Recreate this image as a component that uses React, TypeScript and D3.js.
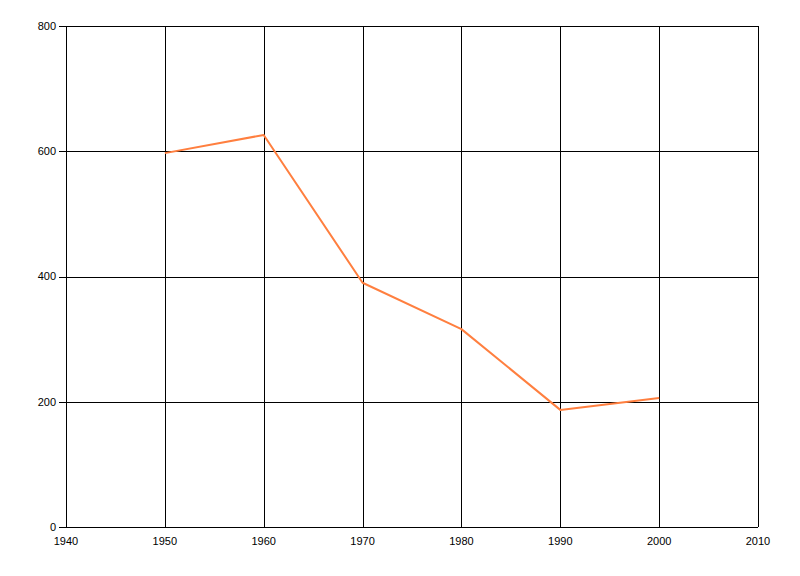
import React from "react";
import * as d3 from "d3";

const years = [1950, 1960, 1970, 1980, 1990, 2000];
const values = [597, 626, 390, 316, 187, 206];
const xTicks = [1940, 1950, 1960, 1970, 1980, 1990, 2000, 2010];
const yTicks = [0, 200, 400, 600, 800];

export default function App() {
  const W = 800, H = 576;
  const left = 66, right = 758, top = 26, bottom = 527;
  const x = d3.scaleLinear().domain([1940, 2010]).range([left, right]);
  const y = d3.scaleLinear().domain([0, 800]).range([bottom, top]);
  const line = d3.line<number>().x((_, i) => x(years[i])).y((d) => y(d));
  const font = "'Liberation Sans', Arial, sans-serif";
  return (
    <svg width={W} height={H} style={{ position: "absolute", left: 0, top: 0, background: "#fff" }}>
      <rect x={0} y={0} width={W} height={H} fill="#fff" />
      {xTicks.map((t) => (
        <line key={"gx" + t} x1={Math.round(x(t)) + 0.5} x2={Math.round(x(t)) + 0.5} y1={top} y2={bottom} stroke="#000" strokeWidth={1} />
      ))}
      {yTicks.map((t) => (
        <line key={"gy" + t} x1={left - 7} x2={right} y1={Math.round(y(t)) + 0.5} y2={Math.round(y(t)) + 0.5} stroke="#000" strokeWidth={1} />
      ))}
      {yTicks.map((t) => (
        <text key={"ty" + t} x={left - 10} y={y(t)} dy="0.35em" textAnchor="end" fontFamily={font} fontSize={11} fill="#000">
          {t}
        </text>
      ))}
      {xTicks.map((t) => (
        <text key={"tx" + t} x={x(t)} y={bottom + 14} dy="0.35em" textAnchor="middle" fontFamily={font} fontSize={11} fill="#000">
          {t}
        </text>
      ))}
      <path d={line(values) || ""} fill="none" stroke="#FF7F3F" strokeWidth={2} strokeLinejoin="round" />
    </svg>
  );
}
